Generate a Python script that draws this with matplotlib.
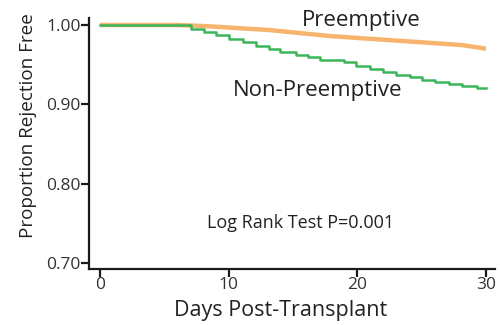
import numpy as np
import matplotlib.pyplot as plt

plt.rcParams['font.family'] = ['Open Sans', 'DejaVu Sans']

# Non-preemptive: step times (days) and survival after each step
green_days = [0, 7.07, 8.1, 9.0, 10.0, 11.1, 12.1, 13.1, 14.0, 15.2, 16.2,
              17.1, 19.0, 19.9, 21.0, 22.0, 23.0, 24.1, 25.0, 26.0, 27.1,
              28.1, 29.3, 30.0]
green_surv = [1.000, 0.9953, 0.9911, 0.9868, 0.9826, 0.9784, 0.9741, 0.9703,
              0.9665, 0.9626, 0.9593, 0.9563, 0.9530, 0.9487, 0.9449, 0.9407,
              0.9372, 0.9339, 0.9309, 0.9280, 0.9254, 0.9225, 0.9203, 0.9203]

# Preemptive: smooth-ish decline
orange_days = [0, 6.0, 8.1, 13.2, 17.9, 21.8, 25.6, 28.2, 30.0]
orange_surv = [1.000, 1.000, 0.9987, 0.9936, 0.9860, 0.9817, 0.9775, 0.9746, 0.9700]

fig = plt.figure(figsize=(5, 3.25), dpi=100)
ax = fig.add_axes([0.178, 0.172, 0.812, 0.773])

ax.plot(orange_days, orange_surv, color='#f7b46e', lw=3.2, solid_capstyle='butt')
ax.step(green_days, green_surv, where='post', color='#3cb55a', lw=1.8)

ax.set_xlim(-0.85, 30.7)
ax.set_ylim(0.692, 1.009)
ax.set_xticks([0, 10, 20, 30])
ax.set_yticks([0.70, 0.80, 0.90, 1.00])
ax.set_yticklabels(['0.70', '0.80', '0.90', '1.00'])

for s in ['top', 'right']:
    ax.spines[s].set_visible(False)
for s in ['left', 'bottom']:
    ax.spines[s].set_linewidth(1.6)
    ax.spines[s].set_color('#1a1a1a')
ax.tick_params(width=1.6, length=6, labelsize=12.5, colors='#1a1a1a', pad=0)
for lab in ax.get_xticklabels() + ax.get_yticklabels():
    lab.set_color('#333333')

ax.set_xlabel('Days Post-Transplant', fontsize=15.5, color='#222222')
ax.xaxis.set_label_coords(0.473, -0.122)
ax.set_ylabel('Proportion Rejection Free', fontsize=13.6, color='#222222')
ax.yaxis.set_label_coords(-0.128, 0.57)

ax.text(20.3, 1.006, 'Preemptive', fontsize=16, ha='center', va='center', color='#222222')
ax.text(16.9, 0.917, 'Non-Preemptive', fontsize=16, ha='center', va='center', color='#222222')
ax.text(15.6, 0.750, 'Log Rank Test P=0.001', fontsize=13, ha='center', va='center', color='#222222')

fig.savefig('out.png', dpi=100)
